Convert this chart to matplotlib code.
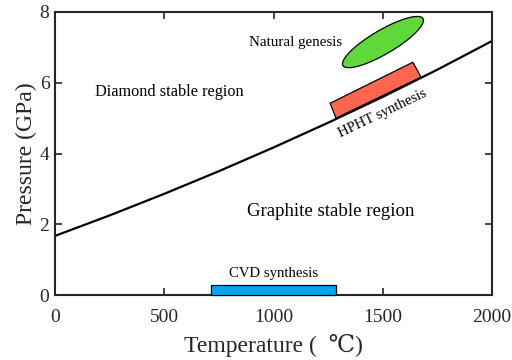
import numpy as np
import matplotlib.pyplot as plt
from matplotlib.patches import Polygon, Rectangle

plt.rcParams['font.family'] = ['Liberation Serif', 'DejaVu Serif']

# graphite/diamond equilibrium line
temp = [0, 250, 500, 750, 1000, 1250, 1500, 1750, 2000]
pres = [1.67, 2.25, 2.86, 3.50, 4.17, 4.87, 5.60, 6.37, 7.18]

# HPHT window (corners, T in C / P in GPa)
hpht_t = [1286, 1675, 1638, 1259]
hpht_p = [5.00, 6.16, 6.58, 5.42]

# CVD window
cvd_t = [714, 1286]
cvd_p = [0.0, 0.28]

# natural genesis ellipse: centre and axis end points
nat_centre = (1501, 7.15)
nat_major = (183, 0.664)
nat_minor = (28, -0.29)

fig = plt.figure(figsize=(5.12, 3.6), dpi=100)
ax = fig.add_axes([55/512, 65/360, 437/512, 283/360])

ax.plot(temp, pres, color='black', lw=1.6, zorder=2)

ax.add_patch(Polygon(list(zip(hpht_t, hpht_p)), closed=True,
                     facecolor='#ff6650', edgecolor='black', lw=0.9, zorder=3))
ax.add_patch(Rectangle((cvd_t[0], cvd_p[0]), cvd_t[1] - cvd_t[0], cvd_p[1] - cvd_p[0],
                       facecolor='#00a8f0', edgecolor='black', lw=0.9, zorder=3,
                       clip_on=False))

th = np.linspace(0, 2 * np.pi, 200)
ex = nat_centre[0] + nat_major[0] * np.cos(th) + nat_minor[0] * np.sin(th)
ey = nat_centre[1] + nat_major[1] * np.cos(th) + nat_minor[1] * np.sin(th)
ax.fill(ex, ey, facecolor='#5fd83a', edgecolor='black', lw=0.9, zorder=3)

ax.text(522, 5.75, 'Diamond stable region', fontsize=11.7, ha='center', va='center')
ax.text(1263, 2.37, 'Graphite stable region', fontsize=13.6, ha='center', va='center')
ax.text(1100, 7.15, 'Natural genesis', fontsize=10.8, ha='center', va='center')
ax.text(1000, 0.62, 'CVD synthesis', fontsize=10.6, ha='center', va='center')
ax.text(1501, 5.12, 'HPHT synthesis', fontsize=10.6, ha='center', va='center',
        rotation=25.5)

ax.set_xlim(0, 2000)
ax.set_ylim(0, 8)
ax.set_xticks([0, 500, 1000, 1500, 2000])
ax.set_yticks([0, 2, 4, 6, 8])
ax.tick_params(direction='in', top=True, right=True, length=5, width=1.2,
               labelsize=14, colors='#262626')
ax.tick_params(axis='x', pad=10)
ax.tick_params(axis='y', pad=4)
for s in ax.spines.values():
    s.set_linewidth(1.5)
    s.set_color('#262626')

ax.set_xlabel('Temperature (  \u2103)', fontsize=17, color='#262626', labelpad=6)
ax.set_ylabel('Pressure (GPa)', fontsize=17, color='#262626', labelpad=2)

fig.savefig('out.png', dpi=100)
